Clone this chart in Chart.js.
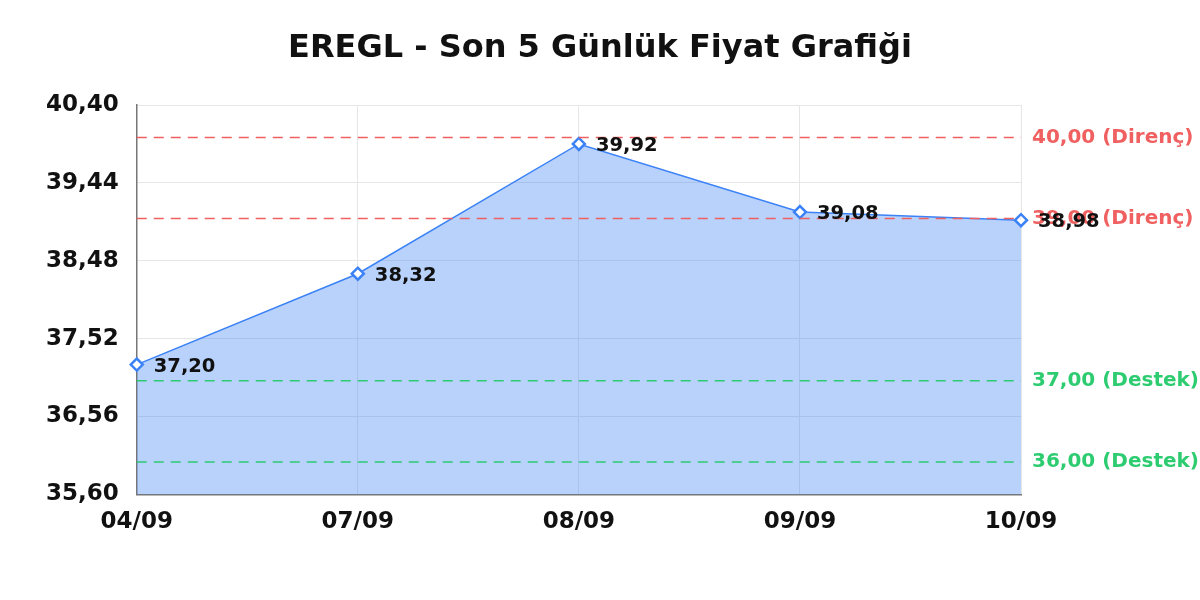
<!DOCTYPE html>
<html lang="tr">
<head>
<meta charset="utf-8">
<title>EREGL - Son 5 Günlük Fiyat Grafiği</title>
<script src="https://cdn.jsdelivr.net/npm/chart.js@4.4.1/dist/chart.umd.min.js"></script>
<style>
  html, body { margin: 0; padding: 0; background: #fff; }
  #wrap { width: 1200px; height: 600px; }
</style>
</head>
<body>
<div id="wrap"><canvas id="grafik" width="1200" height="600"></canvas></div>
<script>
// veriler
const tarihler = ["04/09", "07/09", "08/09", "09/09", "10/09"];
const fiyatlar = [37.20, 38.32, 39.92, 39.08, 38.98];
const direncler = [40.00, 39.00];
const destekler = [37.00, 36.00];
const yMin = 35.60;
const yMax = 40.40;
const yAdim = 0.96;
const baslik = "EREGL - Son 5 Günlük Fiyat Grafiği";

const fmt = v => v.toFixed(2).replace(".", ",");

// başlık, destek / direnç çizgileri ve nokta etiketleri
const seviyePlugin = {
  id: "seviyeler",
  afterDraw(chart) {
    const { ctx } = chart;
    ctx.save();
    ctx.fillStyle = "#111";
    ctx.font = "bold 32px 'DejaVu Sans'";
    ctx.textAlign = "center";
    ctx.textBaseline = "middle";
    ctx.fillText(baslik, chart.width / 2, 49);
    ctx.restore();
  },
  afterDatasetsDraw(chart) {
    const { ctx, chartArea } = chart;
    const y = chart.scales.y;
    const ciz = (deger, renk, yazi) => {
      const py = y.getPixelForValue(deger);
      ctx.save();
      ctx.strokeStyle = renk;
      ctx.lineWidth = 1.5;
      ctx.setLineDash([10, 7]);
      ctx.beginPath();
      ctx.moveTo(chartArea.left, py);
      ctx.lineTo(chartArea.right, py);
      ctx.stroke();
      ctx.setLineDash([]);
      ctx.fillStyle = renk;
      ctx.font = "bold 20px 'DejaVu Sans'";
      ctx.textAlign = "left";
      ctx.textBaseline = "middle";
      ctx.fillText(fmt(deger) + " (" + yazi + ")", chartArea.right + 11, py);
      ctx.restore();
    };
    direncler.forEach(d => ciz(d, "#f06060", "Direnç"));
    destekler.forEach(d => ciz(d, "#2ecc71", "Destek"));

    const meta = chart.getDatasetMeta(0);
    ctx.save();
    ctx.fillStyle = "#111";
    ctx.font = "bold 19.5px 'DejaVu Sans'";
    ctx.textAlign = "left";
    ctx.textBaseline = "middle";
    meta.data.forEach((pt, i) => {
      ctx.fillText(fmt(fiyatlar[i]), pt.x + 17, pt.y + 2);
    });
    ctx.restore();
  }
};

new Chart(document.getElementById("grafik"), {
  type: "line",
  data: {
    labels: tarihler,
    datasets: [{
      label: "EREGL",
      data: fiyatlar,
      borderColor: "#3b82f6",
      borderWidth: 1.5,
      backgroundColor: "rgba(59,130,246,0.36)",
      fill: "start",
      tension: 0,
      pointStyle: "rectRot",
      pointRadius: 6,
      pointBorderWidth: 2.5,
      pointBackgroundColor: "#fff",
      pointBorderColor: "#3b82f6"
    }]
  },
  options: {
    responsive: false,
    animation: false,
    layout: { padding: { left: 28, right: 179, top: 105, bottom: 50 } },
    plugins: {
      legend: { display: false },
      tooltip: { enabled: false },
      title: { display: false }
    },
    scales: {
      x: {
        offset: false,
        grid: { color: "#e6e6e6", drawTicks: false },
        border: { color: "#777", width: 1.5 },
        ticks: {
          color: "#111",
          padding: 14,
          font: { family: "'DejaVu Sans'", size: 23, weight: "bold" }
        }
      },
      y: {
        min: yMin,
        max: yMax,
        grid: { color: "#e6e6e6", drawTicks: false },
        border: { color: "#777", width: 1.5 },
        ticks: {
          stepSize: yAdim,
          color: "#111",
          padding: 18,
          font: { family: "'DejaVu Sans'", size: 23, weight: "bold" },
          callback: v => fmt(v)
        }
      }
    }
  },
  plugins: [seviyePlugin]
});
</script>
</body>
</html>
